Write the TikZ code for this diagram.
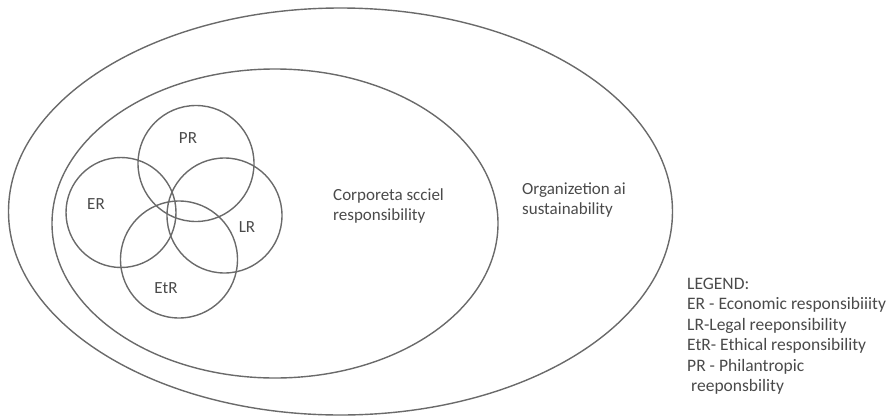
\documentclass[tikz,border=0pt]{standalone}
\usepackage{fontspec}
\setmainfont{Carlito}
\usetikzlibrary{shapes.geometric}
\definecolor{rim}{HTML}{6A6A6A}
\definecolor{ink}{HTML}{4A4A4A}
\tikzset{
  field/.style={draw=rim, line width=1.4pt, ellipse, inner sep=0pt, outer sep=0pt},
  ring/.style={draw=rim, line width=1.4pt, circle, inner sep=0pt, outer sep=0pt},
  tag/.style={text=ink, inner sep=0pt, font=\fontsize{17}{20}\selectfont},
  block/.style={text=ink, inner sep=0pt, align=left, font=\fontsize{17}{19.5}\selectfont},
}
\begin{document}
\begin{tikzpicture}[x=1pt,y=-1pt]
  \useasboundingbox (0,0) rectangle (892,418);

  % nested scopes
  \node[field, minimum width=664pt, minimum height=407pt] (org) at (340.5,211.5) {};
  \node[field, minimum width=446pt, minimum height=309pt] (csr) at (275,223.5) {};

  % the four responsibilities
  \node[ring, minimum size=116pt] (pr)  at (196,163.5) {};
  \node[ring, minimum size=110pt] (er)  at (121,212.5) {};
  \node[ring, minimum size=115pt] (lr)  at (224.5,215.5) {};
  \node[ring, minimum size=117pt] (etr) at (179,259.5) {};

  \node[tag] (prt)  at (188,138) {PR};
  \node[tag] (ert)  at (96,204)  {ER};
  \node[tag] (lrt)  at (247,227) {LR};
  \node[tag] (etrt) at (166,288) {EtR};

  \node[block, anchor=west] (csrt) at (333,206) {Corporeta scciel\\responsibility};
  \node[block, anchor=west] (orgt) at (522,200) {Organizetion ai\\sustainability};

  % legend
  \node[block, anchor=north west, font=\fontsize{17.5}{20.4}\selectfont] (key) at (687,278)
    {LEGEND:\\
     ER - Economic responsibiiity\\
     LR-Legal reeponsibility\\
     EtR- Ethical responsibility\\
     PR - Philantropic\\
     \hspace*{4pt}reeponsbility};
\end{tikzpicture}
\end{document}
